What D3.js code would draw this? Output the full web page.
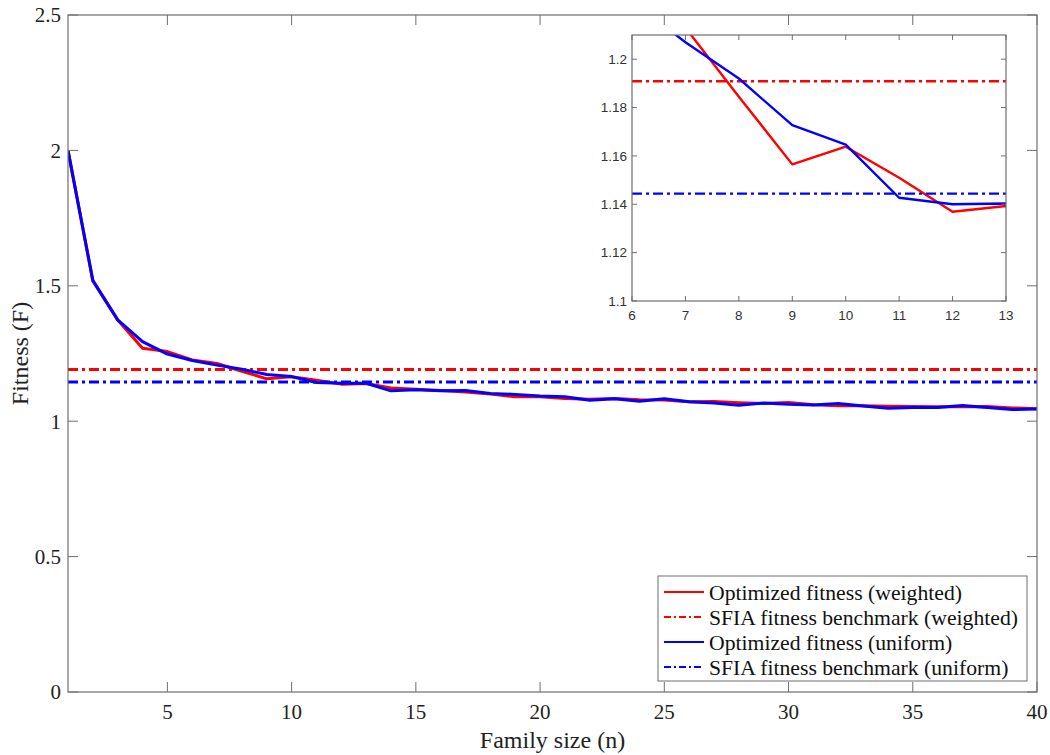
<!DOCTYPE html>
<html>
<head>
<meta charset="utf-8">
<script src="https://cdn.jsdelivr.net/npm/d3@7"></script>
<style>
  body { margin: 0; background: #fff; }
  svg { display: block; }
</style>
</head>
<body>
<div id="chart"></div>
<script>
"use strict";

// data
var familySize = [1, 2, 3, 4, 5, 6, 7, 8, 9, 10, 11, 12, 13, 14, 15, 16, 17, 18, 19, 20,
    21, 22, 23, 24, 25, 26, 27, 28, 29, 30, 31, 32, 33, 34, 35, 36, 37, 38, 39, 40];
var weighted = [2.0, 1.519, 1.374, 1.269, 1.257, 1.226, 1.213, 1.1845, 1.1565, 1.1638,
    1.151, 1.1369, 1.1393, 1.123, 1.118, 1.113, 1.108, 1.100, 1.090, 1.090,
    1.084, 1.081, 1.084, 1.079, 1.078, 1.072, 1.073, 1.068, 1.065, 1.069,
    1.061, 1.057, 1.057, 1.055, 1.054, 1.053, 1.053, 1.054, 1.049, 1.046];
var uniform = [2.0, 1.519, 1.374, 1.294, 1.248, 1.224, 1.207, 1.192, 1.1727, 1.1647,
    1.1427, 1.140, 1.1403, 1.112, 1.116, 1.112, 1.113, 1.1025, 1.099, 1.093,
    1.090, 1.077, 1.083, 1.074, 1.083, 1.072, 1.067, 1.059, 1.067, 1.063,
    1.060, 1.065, 1.056, 1.048, 1.051, 1.051, 1.058, 1.051, 1.043, 1.045];
var benchWeighted = 1.1909;
var benchUniform = 1.1444;

var xTicks = [5, 10, 15, 20, 25, 30, 35, 40];
var yTicks = [0, 0.5, 1, 1.5, 2, 2.5];
var insetXTicks = [6, 7, 8, 9, 10, 11, 12, 13];
var insetYTicks = [1.1, 1.12, 1.14, 1.16, 1.18, 1.2];

var legendLabels = [
    "Optimized fitness (weighted)",
    "SFIA fitness benchmark (weighted)",
    "Optimized fitness (uniform)",
    "SFIA fitness benchmark (uniform)"
];

var W = 1050, H = 755;
var serif = "'Liberation Serif', 'Times New Roman', serif";
var sans = "'Liberation Sans', Arial, sans-serif";
var axisColor = "#6e6e6e";
var dashDot = "10,4,3,4";

var svg = d3.select("#chart").append("svg")
    .attr("width", W)
    .attr("height", H);

// main axes box
var box = { left: 68, right: 1037, top: 15, bottom: 692 };

var x = d3.scaleLinear().domain([1, 40]).range([box.left, box.right]);
var y = d3.scaleLinear().domain([0, 2.5]).range([box.bottom, box.top]);

var pts = function (vals) {
    return familySize.map(function (n, i) { return [n, vals[i]]; });
};

function drawFrame(g, xs, ys, xt, yt, fmt, font, fontSize, tickLen, labelColor, xOff, yOff) {
    var x0 = xs.range()[0], x1 = xs.range()[1];
    var y0 = ys.range()[0], y1 = ys.range()[1];
    // ticks, inward on all four sides
    xt.forEach(function (t) {
        g.append("line").attr("x1", xs(t)).attr("x2", xs(t))
            .attr("y1", y0).attr("y2", y0 - tickLen)
            .attr("stroke", axisColor).attr("stroke-width", 1);
        g.append("line").attr("x1", xs(t)).attr("x2", xs(t))
            .attr("y1", y1).attr("y2", y1 + tickLen)
            .attr("stroke", axisColor).attr("stroke-width", 1);
        g.append("text").attr("x", xs(t)).attr("y", y0 + xOff)
            .attr("text-anchor", "middle")
            .style("font-family", font).style("font-size", fontSize + "px")
            .style("fill", labelColor)
            .text(fmt(t));
    });
    yt.forEach(function (t) {
        g.append("line").attr("x1", x0).attr("x2", x0 + tickLen)
            .attr("y1", ys(t)).attr("y2", ys(t))
            .attr("stroke", axisColor).attr("stroke-width", 1);
        g.append("line").attr("x1", x1).attr("x2", x1 - tickLen)
            .attr("y1", ys(t)).attr("y2", ys(t))
            .attr("stroke", axisColor).attr("stroke-width", 1);
        g.append("text").attr("x", x0 - yOff).attr("y", ys(t))
            .attr("text-anchor", "end").attr("dy", "0.35em")
            .style("font-family", font).style("font-size", fontSize + "px")
            .style("fill", labelColor)
            .text(fmt(t));
    });
    g.append("rect")
        .attr("x", x0).attr("y", y1)
        .attr("width", x1 - x0).attr("height", y0 - y1)
        .attr("fill", "none").attr("stroke", axisColor).attr("stroke-width", 1.2);
}

var main = svg.append("g");

svg.append("defs").append("clipPath").attr("id", "mainClip")
    .append("rect")
    .attr("x", box.left).attr("y", box.top)
    .attr("width", box.right - box.left).attr("height", box.bottom - box.top);

var mainPlot = main.append("g").attr("clip-path", "url(#mainClip)");

var line = d3.line().x(function (d) { return x(d[0]); }).y(function (d) { return y(d[1]); });

function drawSeries(g, lineGen, xs, vals, bench, color, w) {
    g.append("path").datum(pts(vals))
        .attr("d", lineGen)
        .attr("fill", "none").attr("stroke", color)
        .attr("stroke-width", w).attr("stroke-linejoin", "round");
    g.append("line")
        .attr("x1", xs.range()[0]).attr("x2", xs.range()[1])
        .attr("y1", lineGen.y()([0, bench])).attr("y2", lineGen.y()([0, bench]))
        .attr("stroke", color).attr("stroke-width", w)
        .attr("stroke-dasharray", dashDot);
}

drawSeries(mainPlot, line, x, weighted, benchWeighted, "#ff0000", 3);
drawSeries(mainPlot, line, x, uniform, benchUniform, "#0000ff", 3);

drawFrame(main, x, y, xTicks, yTicks, function (d) { return String(d); },
    serif, 21, 10, "#222", 27, 7);

// axis titles
main.append("text")
    .attr("x", (box.left + box.right) / 2).attr("y", 748)
    .attr("text-anchor", "middle")
    .style("font-family", serif).style("font-size", "24px").style("fill", "#222")
    .text("Family size (n)");
main.append("text")
    .attr("transform", "translate(28," + ((box.top + box.bottom) / 2) + ") rotate(-90)")
    .attr("text-anchor", "middle")
    .style("font-family", serif).style("font-size", "24px").style("fill", "#222")
    .text("Fitness (F)");

// legend
var lg = main.append("g");
lg.append("rect")
    .attr("x", 658).attr("y", 576).attr("width", 369).attr("height", 105)
    .attr("fill", "#fff").attr("stroke", axisColor).attr("stroke-width", 1);
var legendColors = ["#ff0000", "#ff0000", "#0000ff", "#0000ff"];
var legendDash = [null, "7,3,2,3", null, "7,3,2,3"];
var rowY = d3.scalePoint().domain(d3.range(legendLabels.length)).range([592, 667]);
legendLabels.forEach(function (lab, i) {
    lg.append("line")
        .attr("x1", 664).attr("x2", 704)
        .attr("y1", rowY(i)).attr("y2", rowY(i))
        .attr("stroke", legendColors[i]).attr("stroke-width", 2.2)
        .attr("stroke-dasharray", legendDash[i]);
    lg.append("text")
        .attr("x", 709).attr("y", rowY(i)).attr("dy", "0.35em")
        .style("font-family", serif).style("font-size", "21.7px").style("fill", "#111")
        .text(lab);
});

// inset
var ibox = { left: 632, right: 1006, top: 35, bottom: 301 };
var ix = d3.scaleLinear().domain([6, 13]).range([ibox.left, ibox.right]);
var iy = d3.scaleLinear().domain([1.1, 1.21]).range([ibox.bottom, ibox.top]);

var inset = svg.append("g");
inset.append("rect")
    .attr("x", ibox.left).attr("y", ibox.top)
    .attr("width", ibox.right - ibox.left).attr("height", ibox.bottom - ibox.top)
    .attr("fill", "#fff");

svg.select("defs").append("clipPath").attr("id", "insetClip")
    .append("rect")
    .attr("x", ibox.left).attr("y", ibox.top)
    .attr("width", ibox.right - ibox.left).attr("height", ibox.bottom - ibox.top);

var insetPlot = inset.append("g").attr("clip-path", "url(#insetClip)");
var iline = d3.line().x(function (d) { return ix(d[0]); }).y(function (d) { return iy(d[1]); });

drawSeries(insetPlot, iline, ix, weighted, benchWeighted, "#ff0000", 2.4);
drawSeries(insetPlot, iline, ix, uniform, benchUniform, "#0000ff", 2.4);

drawFrame(inset, ix, iy, insetXTicks, insetYTicks, function (d) { return String(+d.toFixed(2)); },
    sans, 13.5, 5, "#333", 19, 5);
</script>
</body>
</html>
